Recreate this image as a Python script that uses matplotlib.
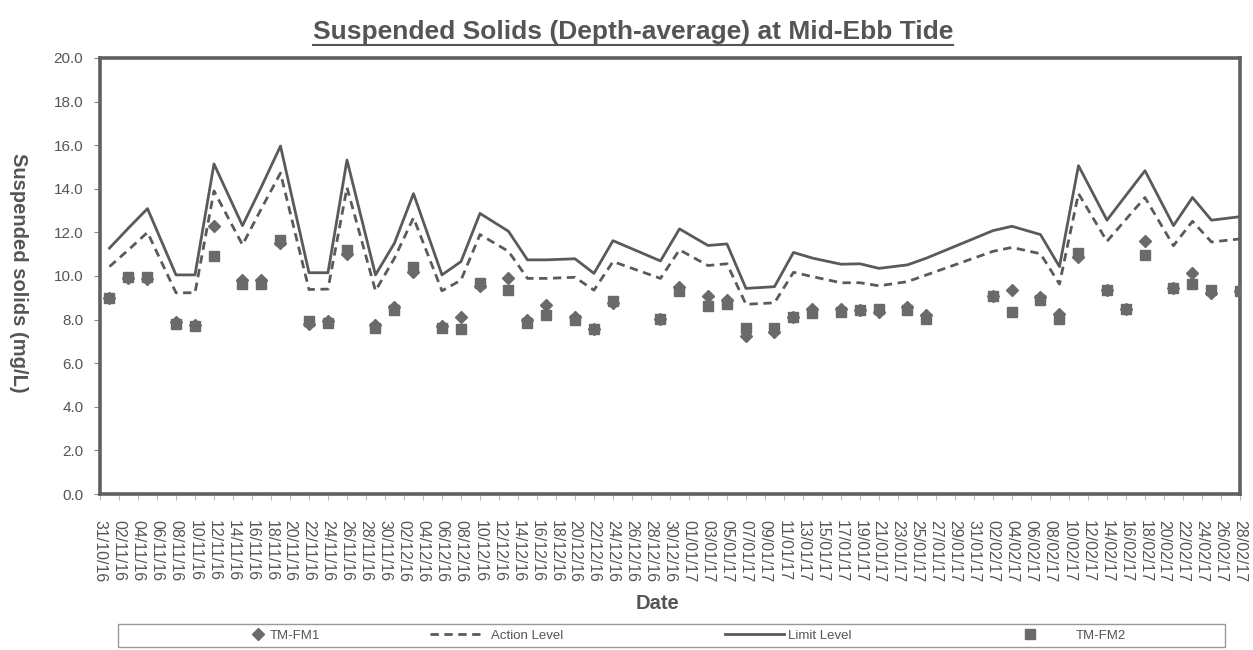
import matplotlib
matplotlib.use('Agg')
import matplotlib.pyplot as plt
import matplotlib.dates as mdates
from matplotlib.lines import Line2D
from matplotlib.patches import Rectangle
import pandas as pd

plt.rcParams['font.family'] = ['Liberation Sans', 'DejaVu Sans']

# sampling dates (dd/mm/yy)
dates = ['01/11/16', '03/11/16', '05/11/16', '08/11/16', '10/11/16', '12/11/16', '15/11/16',
         '17/11/16', '19/11/16', '22/11/16', '24/11/16', '26/11/16', '29/11/16', '01/12/16',
         '03/12/16', '06/12/16', '08/12/16', '10/12/16', '13/12/16', '15/12/16', '17/12/16',
         '20/12/16', '22/12/16', '24/12/16', '29/12/16', '31/12/16', '03/01/17', '05/01/17',
         '07/01/17', '10/01/17', '12/01/17', '14/01/17', '17/01/17', '19/01/17', '21/01/17',
         '24/01/17', '26/01/17', '02/02/17', '04/02/17', '07/02/17', '09/02/17', '11/02/17',
         '14/02/17', '16/02/17', '18/02/17', '21/02/17', '23/02/17', '25/02/17', '28/02/17']

limit_level = [11.28, 12.2, 13.09, 10.05, 10.05, 15.14, 12.31, 14.1, 15.96, 10.15, 10.15,
               15.32, 10.05, 11.51, 13.78, 10.05, 10.66, 12.87, 12.05, 10.74, 10.74,
               10.79, 10.12, 11.62, 10.69, 12.16, 11.4, 11.47, 9.43, 9.51, 11.08,
               10.82, 10.54, 10.56, 10.35, 10.51, 10.82, 12.08, 12.28, 11.9, 10.43, 15.06,
               12.56, 13.7, 14.83, 12.31, 13.6, 12.56, 12.72]

action_level = [10.43, 11.2, 12.0, 9.23, 9.23, 13.9, 11.43, 13.1, 14.72, 9.38, 9.4,
                14.06, 9.32, 10.82, 12.67, 9.32, 9.81, 11.9, 11.13, 9.89, 9.89,
                9.94, 9.35, 10.66, 9.89, 11.2, 10.48, 10.56, 8.7, 8.77, 10.17,
                9.97, 9.69, 9.69, 9.55, 9.74, 10.05, 11.13, 11.31, 11.02, 9.63, 13.78,
                11.59, 12.6, 13.6, 11.39, 12.51, 11.56, 11.7]

tm_fm1 = [9.0, 9.9, 9.85, 7.9, 7.75, 12.31, 9.8, 9.8, 11.5, 7.8, 7.95,
          11.0, 7.75, 8.6, 10.2, 7.7, 8.1, 9.55, 9.92, 8.0, 8.66,
          8.1, 7.55, 8.75, 8.05, 9.5, 9.09, 8.9, 7.25, 7.45, 8.1,
          8.5, 8.5, 8.45, 8.35, 8.6, 8.2, 9.1, 9.35, 9.05, 8.25, 10.85,
          9.35, 8.5, 11.59, 9.45, 10.12, 9.2, 9.3]

tm_fm2 = [9.0, 9.95, 9.95, 7.8, 7.7, 10.9, 9.65, 9.65, 11.65, 7.95, 7.85,
          11.2, 7.6, 8.45, 10.4, 7.6, 7.55, 9.7, 9.38, 7.85, 8.19,
          8.0, 7.55, 8.85, 8.05, 9.3, 8.61, 8.7, 7.6, 7.6, 8.1,
          8.3, 8.35, 8.45, 8.5, 8.45, 8.05, 9.1, 8.35, 8.9, 8.05, 11.05,
          9.35, 8.5, 10.94, 9.45, 9.63, 9.35, 9.3]

y_ticks = [0, 2, 4, 6, 8, 10, 12, 14, 16, 18, 20]
x_start, x_end = '2016-10-31', '2017-02-28'

textcolor = '#555555'
linecolor = '#5a5a5a'
markcolor = '#6a6a6a'

x = pd.to_datetime(dates, format='%d/%m/%y')

fig = plt.figure(figsize=(12.53, 6.5), dpi=100)
ax = fig.add_axes([0.0798, 0.2400, 0.9098, 0.6708])

ax.plot(x, limit_level, color=linecolor, linewidth=2.0, linestyle='-', zorder=2)
ax.plot(x, action_level, color=linecolor, linewidth=2.0, linestyle=(0, (3, 2)), zorder=2)
ax.plot(x, tm_fm2, linestyle='none', marker='s', markersize=7, color=markcolor, zorder=3)
ax.plot(x, tm_fm1, linestyle='none', marker='D', markersize=6, color=markcolor, zorder=4)

xticks = pd.date_range(x_start, x_end, freq='2D')
ax.set_xticks(xticks)
ax.xaxis.set_major_formatter(mdates.DateFormatter('%d/%m/%y'))
ax.set_xlim(pd.Timestamp(x_start), pd.Timestamp(x_end))
ax.set_ylim(0, 20)
ax.set_yticks(y_ticks)
ax.set_yticklabels(['{:.1f}'.format(v) for v in y_ticks])

ax.tick_params(axis='x', labelrotation=270, labelsize=11.5, colors=textcolor, length=4, pad=15,
               color='#bbbbbb')
ax.tick_params(axis='y', labelsize=11, colors=textcolor, length=4, pad=8, color='#888888')
for lab in ax.get_xticklabels():
    lab.set_verticalalignment('top')
    lab.set_horizontalalignment('center')

for side in ['top', 'bottom', 'left', 'right']:
    ax.spines[side].set_color('#606060')
    ax.spines[side].set_linewidth(2.6)

# title with underline
title = fig.text(0.505, 0.951, 'Suspended Solids (Depth-average) at Mid-Ebb Tide',
                 ha='center', va='center', fontsize=19, fontweight='bold', color=textcolor)
fig.text(0.015, 0.580, 'Suspended solids (mg/L)', rotation=270, ha='center', va='center',
         fontsize=14.5, fontweight='bold', color=textcolor)
fig.text(0.525, 0.071, 'Date', ha='center', va='center', fontsize=14.5, fontweight='bold',
         color=textcolor)

renderer = fig.canvas.get_renderer()
bb = title.get_window_extent(renderer=renderer).transformed(fig.transFigure.inverted())
fig.add_artist(Line2D([bb.x0, bb.x1], [bb.y0 - 0.001, bb.y0 - 0.001], transform=fig.transFigure,
                      color=textcolor, linewidth=1.5))

# legend frame and entries
fig.add_artist(Rectangle((118 / 1253, 3 / 650), (1225 - 118) / 1253, 23 / 650,
                         transform=fig.transFigure, fill=False, edgecolor='#999999', linewidth=1.0))

entries = [
    (Line2D([], [], linestyle='none', marker='D', markersize=6, color=markcolor), 'TM-FM1', 0.2003, 1.0, 0.4),
    (Line2D([], [], color=linecolor, linewidth=2.0, linestyle=(0, (3, 2))), 'Action Level', 0.3432, 4.2, 0.4),
    (Line2D([], [], color=linecolor, linewidth=2.0), 'Limit Level', 0.5786, 4.5, 0.25),
    (Line2D([], [], linestyle='none', marker='s', markersize=7, color=markcolor), 'TM-FM2', 0.8165, 1.0, 3.0),
]
for handle, label, xpos, hlen, hpad in entries:
    fig.legend([handle], [label], loc='center left', bbox_to_anchor=(xpos, 0.022),
               frameon=False, fontsize=9.5, labelcolor=textcolor, borderpad=0,
               borderaxespad=0, handlelength=hlen, handletextpad=hpad)

plt.savefig('out.png', dpi=100)
